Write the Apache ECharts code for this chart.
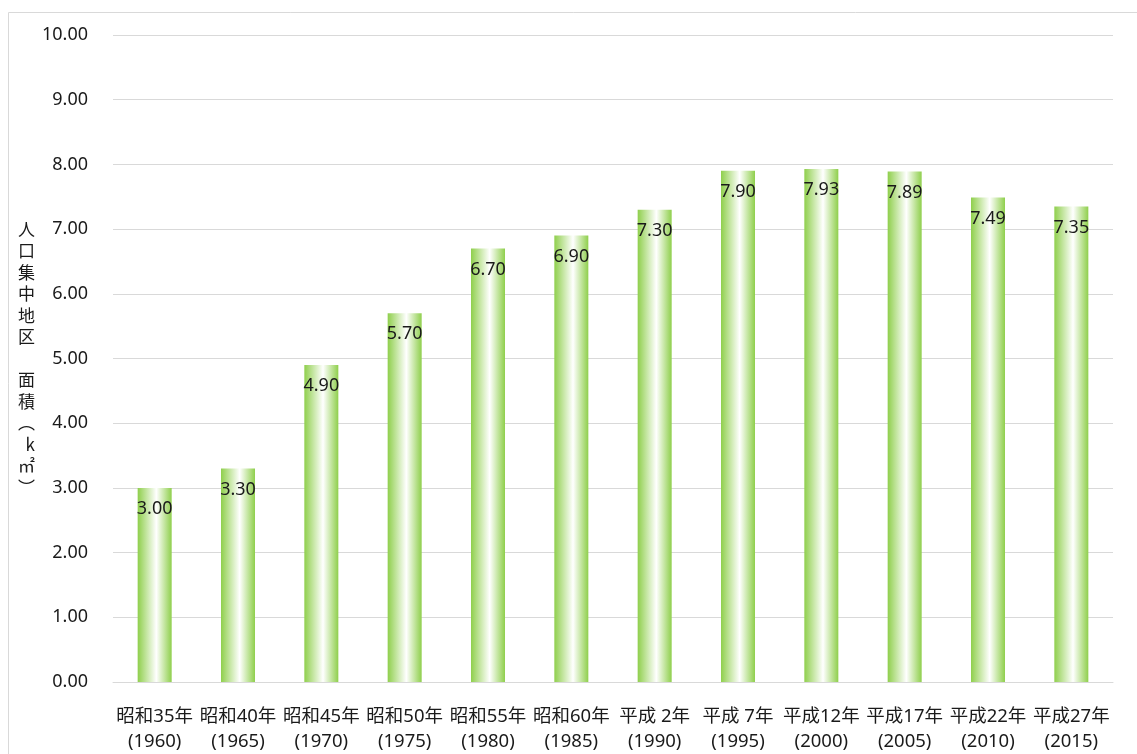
<!DOCTYPE html>
<html>
<head>
<meta charset="utf-8">
<script src="https://cdn.jsdelivr.net/npm/echarts@6/dist/echarts.min.js"></script>
<style>
  html, body { margin: 0; padding: 0; background: #fff; }
  #chart { width: 1137px; height: 754px; }
</style>
</head>
<body>
<div id="chart"></div>
<script>
// 人口集中地区の面積 (km²)
const eraLabels = ['昭和35年', '昭和40年', '昭和45年', '昭和50年', '昭和55年', '昭和60年',
  '平成 2年', '平成 7年', '平成12年', '平成17年', '平成22年', '平成27年']
const yearLabels = ['(1960)', '(1965)', '(1970)', '(1975)', '(1980)', '(1985)',
  '(1990)', '(1995)', '(2000)', '(2005)', '(2010)', '(2015)']
const areaValues = [3.00, 3.30, 4.90, 5.70, 6.70, 6.90, 7.30, 7.90, 7.93, 7.89, 7.49, 7.35]
const yAxisChars = ['人', '口', '集', '中', '地', '区', '　', '面', '積', '︵', 'k', '㎡', '︶']

const categories = eraLabels.map((e, i) => e + '\n' + yearLabels[i])

const font = '"Noto Sans", "Noto Sans CJK JP", sans-serif'
const chart = echarts.init(document.getElementById('chart'))

const option = {
  animation: false,
  textStyle: { fontFamily: font },
  graphic: [{
    type: 'rect',
    shape: { x: 8.5, y: 12.5, width: 1140, height: 760 },
    style: { fill: 'none', stroke: '#d9d9d9', lineWidth: 1 },
    silent: true
  }],
  grid: { left: 113, right: 24, top: 35, bottom: 72 },
  xAxis: {
    type: 'category',
    data: categories,
    axisLine: { lineStyle: { color: '#d9d9d9', width: 1 } },
    axisTick: { show: false },
    axisLabel: {
      color: '#1a1a1a',
      fontSize: 18.5,
      lineHeight: 25,
      margin: 22,
      interval: 0,
      fontFamily: font
    }
  },
  yAxis: {
    type: 'value',
    min: 0,
    max: 10,
    interval: 1,
    name: yAxisChars.join('\n'),
    nameLocation: 'middle',
    nameRotate: 0,
    nameGap: 78,
    nameTextStyle: { color: '#1a1a1a', fontSize: 17, lineHeight: 21.5, fontFamily: '"Noto Sans CJK JP", sans-serif' },
    axisLine: { show: false },
    axisTick: { show: false },
    splitLine: { lineStyle: { color: '#d9d9d9', width: 1 } },
    axisLabel: {
      color: '#1a1a1a',
      fontSize: 18,
      margin: 25,
      formatter: v => v.toFixed(2)
    }
  },
  series: [{
    type: 'bar',
    data: areaValues,
    barWidth: 34,
    itemStyle: {
      color: new echarts.graphic.LinearGradient(0, 0, 1, 0, [
        { offset: 0, color: '#8fcf4c' },
        { offset: 0.55, color: '#ffffff' },
        { offset: 1, color: '#8fcf4c' }
      ])
    },
    label: {
      show: true,
      position: 'insideTop',
      distance: 12,
      color: '#1a1a1a',
      fontSize: 18,
      formatter: p => p.value.toFixed(2)
    }
  }]
}
option && chart.setOption(option)
</script>
</body>
</html>
